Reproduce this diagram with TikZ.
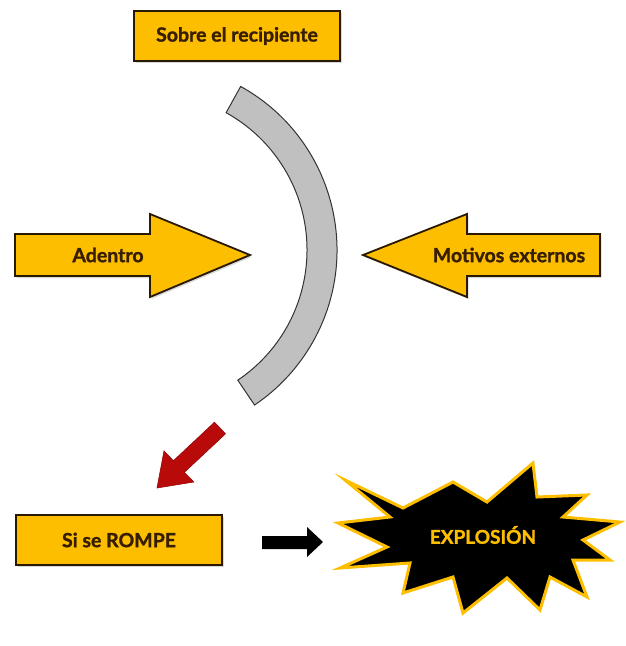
\documentclass[tikz,border=0pt]{standalone}
\usepackage{fontspec}
\setmainfont{Lato}[BoldFeatures={FakeBold=1.3}]
\usetikzlibrary{shadows}
\definecolor{gold}{RGB}{253,190,0}
\definecolor{edge}{RGB}{40,25,0}
\definecolor{txt}{RGB}{55,30,0}
\definecolor{band}{RGB}{192,192,192}
\definecolor{darkred}{RGB}{185,10,10}
\begin{document}
\begin{tikzpicture}[x=1pt,y=-1pt]
\useasboundingbox (0,0) rectangle (626,646);
\tikzset{
  ybox/.style={draw=edge, line width=1.8pt, fill=gold, inner sep=0pt,
    drop shadow={shadow xshift=1.5pt, shadow yshift=-2pt, opacity=0.3}},
  lbl/.style={font=\bfseries\fontsize{19.5}{22}\selectfont, text=txt},
  yarrow/.style={draw=edge, line width=1.8pt, fill=gold, line join=miter,
    drop shadow={shadow xshift=1.5pt, shadow yshift=-2pt, opacity=0.3}},
  bandstyle/.style={draw=black!80, line width=1pt, fill=band},
}
% top box
\node[ybox, lbl, minimum width=206pt, minimum height=50pt] (top) at (237,36) {Sobre el recipiente};
% left arrow
\draw[yarrow] (15,234) -- (150,234) -- (150,214) -- (250,255) -- (150,297) -- (150,276) -- (15,276) -- cycle;
\node[lbl] (adentro) at (108,255) {Adentro};
% right arrow
\draw[yarrow] (600,234) -- (467,234) -- (467,214) -- (363,255) -- (467,297) -- (467,276) -- (600,276) -- cycle;
\node[lbl] (motivos) at (509,255) {Motivos externos};
% curved wall
\draw[bandstyle] (150,250) ++(-61:187) arc[start angle=-61, end angle=56, radius=187]
  -- ++(56:-30) arc[start angle=56, end angle=-61, radius=157] -- cycle;
% red arrow
\draw[fill=darkred, draw=darkred!80!black, line width=0.6pt, line join=miter]
  (214.5,422.2) -- (173.4,460.7) -- (164.0,450.9) -- (157,488) -- (193.8,482.0) -- (184.4,472.3) -- (225.5,433.8) -- cycle;
% bottom box
\node[ybox, lbl, minimum width=206pt, minimum height=50pt] (rompe) at (119,540) {Si se ROMPE};
% black arrow
\fill[black] (262,536) -- (307,536) -- (307,527) -- (323,542) -- (307,557) -- (307,549) -- (262,549) -- cycle;
% explosion
\draw[fill=black, draw=gold, line width=3pt, line join=miter, miter limit=20]
  (345,480) -- (403,508) -- (453,482) -- (487,502) -- (533,463) -- (537,497) -- (587,495)
  -- (563,517) -- (620,522) -- (583,540) -- (610,560) -- (573,560) -- (587,597)
  -- (550,577) -- (540,610) -- (507,578) -- (463,613) -- (453,577) -- (403,593)
  -- (410,563) -- (340,568) -- (387,547) -- (338,523) -- (390,517) -- cycle;
\node[font=\bfseries\fontsize{19}{22}\selectfont, text=gold] (expl) at (483,535) {EXPLOSIÓN};
\end{tikzpicture}
\end{document}
